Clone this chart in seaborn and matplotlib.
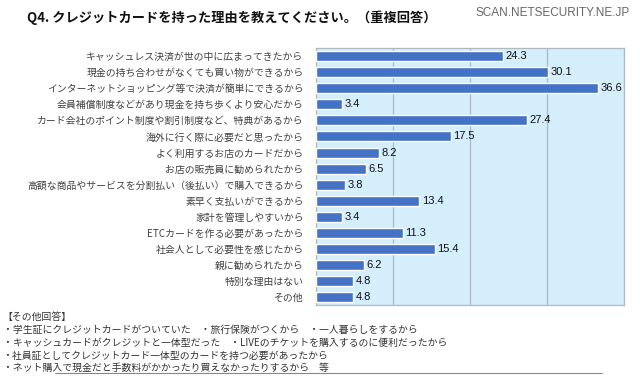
import pandas as pd
import numpy as np
import matplotlib
matplotlib.use('Agg')
import matplotlib.pyplot as plt
import seaborn as sns

sns.set_theme(style='white')
plt.rcParams['font.family'] = ['Noto Sans CJK JP', 'DejaVu Sans']

# data
reasons = ['キャッシュレス決済が世の中に広まってきたから',
           '現金の持ち合わせがなくても買い物ができるから',
           'インターネットショッピング等で決済が簡単にできるから',
           '会員補償制度などがあり現金を持ち歩くより安心だから',
           'カード会社のポイント制度や割引制度など、特典があるから',
           '海外に行く際に必要だと思ったから',
           'よく利用するお店のカードだから',
           'お店の販売員に勧められたから',
           '高額な商品やサービスを分割払い（後払い）で購入できるから',
           '素早く支払いができるから',
           '家計を管理しやすいから',
           'ETCカードを作る必要があったから',
           '社会人として必要性を感じたから',
           '親に勧められたから',
           '特別な理由はない',
           'その他']
values = [24.3, 30.1, 36.6, 3.4, 27.4, 17.5, 8.2, 6.5, 3.8, 13.4, 3.4, 11.3, 15.4, 6.2, 4.8, 4.8]
xticks = [0, 10, 20, 30, 40]

title = 'Q4. クレジットカードを持った理由を教えてください。（重複回答）'
notes = ['【その他回答】',
         '・学生証にクレジットカードがついていた　・旅行保険がつくから　・一人暮らしをするから',
         '・キャッシュカードがクレジットと一体型だった　・LIVEのチケットを購入するのに便利だったから',
         '・社員証としてクレジットカード一体型のカードを持つ必要があったから',
         '・ネット購入で現金だと手数料がかかったり買えなかったりするから　等']

df = pd.DataFrame({'reason': reasons, 'value': values})

fig = plt.figure(figsize=(6.4, 3.79), dpi=100)
ax = fig.add_axes([0.494, 0.195, 0.481, 0.678])
ax.set_facecolor('#d5eefb')

sns.barplot(data=df, x='value', y='reason', orient='h', color='#4472C4',
            saturation=1, width=0.62, ax=ax, zorder=3)

ax.set_xlim(xticks[0], xticks[-1])
ax.set_xticks(xticks)
ax.xaxis.grid(True, color='#a9b9c6', linewidth=0.9, zorder=0)
ax.set_xticklabels([])
ax.tick_params(axis='x', length=0)
ax.tick_params(axis='y', length=0, pad=9, labelsize=7.1, labelcolor='#404040')
ax.set_xlabel('')
ax.set_ylabel('')
for s in ax.spines.values():
    s.set_color('#b0b8c0')
    s.set_linewidth(0.9)

for i, v in enumerate(values):
    ax.text(v + 0.3, i, f'{v:.1f}', va='center', ha='left', fontsize=8,
            color='#111111', family=['Liberation Sans', 'DejaVu Sans'])

fig.text(27 / 640, 1 - 18 / 379, title, fontsize=9.5, fontweight='bold', color='#111111',
         va='center', ha='left')
fig.text(630 / 640, 1 - 13 / 379, 'SCAN.NETSECURITY.NE.JP', fontsize=8.5, color='#666666',
         va='center', ha='right', family=['Liberation Sans', 'DejaVu Sans'])

y0 = 1 - 317 / 379
for k, line in enumerate(notes):
    fig.text(0.004, y0 - k * 12.8 / 379, line, fontsize=7.1, color='#333333',
             va='center', ha='left')
fig.add_artist(plt.Line2D([55 / 640, 602 / 640], [1 - 373 / 379] * 2,
                          color='#888888', linewidth=0.8))

plt.savefig('out.png', dpi=100)
